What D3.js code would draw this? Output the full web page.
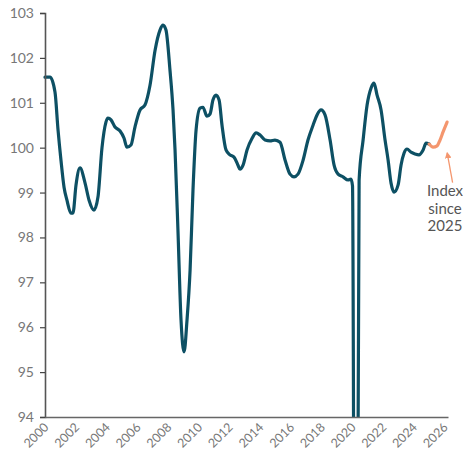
<!DOCTYPE html>
<html><head><meta charset="utf-8">
<script src="https://cdn.jsdelivr.net/npm/d3@7"></script>
<style>body{margin:0;background:#fff}svg{display:block}text{font-family:Lato,"Open Sans",sans-serif}</style>
</head><body><svg id="c" width="463" height="452"></svg>
<script>
// Main index (decimal year, value)
const mainYears = [2000.00,2000.33,2000.65,2000.85,2001.04,2001.24,2001.43,2001.69,2001.82,2002.02,2002.28,2002.61,2002.87,2003.19,2003.45,2003.71,2003.97,2004.10,2004.30,2004.56,2004.89,2005.15,2005.34,2005.60,2005.86,2006.19,2006.51,2006.84,2007.17,2007.49,2007.69,2007.88,2008.14,2008.34,2008.47,2008.66,2008.86,2009.06,2009.25,2009.45,2009.64,2009.84,2010.10,2010.29,2010.55,2010.75,2010.94,2011.14,2011.34,2011.53,2011.79,2012.05,2012.31,2012.57,2012.70,2012.90,2013.16,2013.49,2013.75,2014.01,2014.33,2014.66,2014.98,2015.31,2015.64,2015.96,2016.22,2016.48,2016.81,2017.13,2017.46,2017.72,2017.98,2018.24,2018.57,2018.83,2019.09,2019.41,2019.74,2019.93,2020.03,2020.23,2020.46,2020.72,2020.98,2021.24,2021.43,2021.63,2021.89,2022.15,2022.35,2022.54,2022.74,2023.00,2023.19,2023.39,2023.58,2023.84,2024.10,2024.36,2024.63,2024.82,2025.02];
const mainValues = [101.57,101.57,101.24,100.39,99.72,99.12,98.83,98.54,98.54,99.17,99.55,99.21,98.83,98.61,98.90,99.99,100.57,100.66,100.62,100.46,100.37,100.21,100.01,100.06,100.46,100.84,100.95,101.39,102.17,102.62,102.73,102.62,101.73,100.84,99.95,98.16,96.16,95.45,96.16,97.27,99.06,100.39,100.88,100.90,100.70,100.75,101.06,101.17,101.06,100.50,99.95,99.84,99.79,99.61,99.52,99.61,99.95,100.21,100.33,100.28,100.17,100.15,100.17,100.12,99.72,99.41,99.35,99.41,99.72,100.17,100.50,100.73,100.84,100.73,100.17,99.61,99.41,99.35,99.28,99.30,99.15,80.00,99.28,100.17,100.95,101.33,101.44,101.17,100.84,100.17,99.72,99.21,99.01,99.17,99.61,99.88,99.97,99.90,99.86,99.84,99.95,100.10,100.08];
// Index since 2025
const newYears = [2025.02,2025.28,2025.54,2025.73,2025.93,2026.19];
const newValues = [100.08,100.01,100.04,100.17,100.35,100.57];
const yTicks = [94,95,96,97,98,99,100,101,102,103];
const xTicks = [2000,2002,2004,2006,2008,2010,2012,2014,2016,2018,2020,2022,2024,2026];
const annotation = ["Index","since","2025"];

const svg = d3.select("#c");
const x = d3.scaleLinear().domain([2000, 2026.25]).range([45, 448]);
const y = d3.scaleLinear().domain([94, 103]).range([417, 13]);

svg.append("defs").append("clipPath").attr("id","clip")
  .append("rect").attr("x",0).attr("y",0).attr("width",463).attr("height",417);

const line = d3.line().x(d=>x(d[0])).y(d=>y(d[1])).curve(d3.curveMonotoneX);
const mainData = mainYears.map((t,i)=>[t,mainValues[i]]);
const newData = newYears.map((t,i)=>[t,newValues[i]]);

const g = svg.append("g").attr("clip-path","url(#clip)");
g.append("path").attr("d", line(mainData)).attr("fill","none")
  .attr("stroke","#0d5064").attr("stroke-width",3.2).attr("stroke-linejoin","round").attr("stroke-linecap","round");
g.append("path").attr("d", line(newData)).attr("fill","none")
  .attr("stroke","#f4966e").attr("stroke-width",3.2).attr("stroke-linejoin","round").attr("stroke-linecap","round");

// Y axis
const ya = svg.append("g").attr("transform","translate(45,0)")
  .call(d3.axisLeft(y).tickValues(yTicks).tickSize(5).tickPadding(6).tickFormat(d3.format("d")));
ya.select(".domain").attr("stroke","#555").attr("stroke-width",1.6);
ya.selectAll(".tick line").attr("stroke","#444").attr("stroke-width",1.2);
ya.selectAll(".tick text").attr("fill","#777").attr("font-size",14).attr("font-family","Lato,sans-serif");

// X axis
const xa = svg.append("g").attr("transform","translate(0,417)")
  .call(d3.axisBottom(x).tickValues(xTicks).tickSize(0).tickPadding(0).tickFormat(d3.format("d")));
xa.select(".domain").attr("stroke","#666").attr("stroke-width",1.6);
xa.selectAll(".tick text").attr("fill","#777").attr("font-size",12.5).attr("font-family","Lato,sans-serif")
  .attr("text-anchor","end").attr("dy",0).attr("y",0)
  .attr("transform","translate(4,11) rotate(-45)");

// Annotation
const ar = svg.append("defs").append("marker").attr("id","ah").attr("viewBox","0 0 10 10")
  .attr("refX",8).attr("refY",5).attr("markerWidth",5).attr("markerHeight",5).attr("orient","auto")
  .append("path").attr("d","M0,0L10,5L0,10z").attr("fill","#f4966e");
svg.append("line").attr("x1",x(2026.55)).attr("y1",y(99.22)).attr("x2",x(2026.2)).attr("y2",y(99.88))
  .attr("stroke","#f4966e").attr("stroke-width",1.3).attr("marker-end","url(#ah)");
svg.append("text").attr("x",445).attr("y",196).attr("text-anchor","middle").attr("fill","#555").attr("font-size",15)
  .selectAll("tspan").data(annotation).join("tspan").attr("x",445).attr("dy",(d,i)=>i?17.5:0).text(d=>d);
</script></body></html>
